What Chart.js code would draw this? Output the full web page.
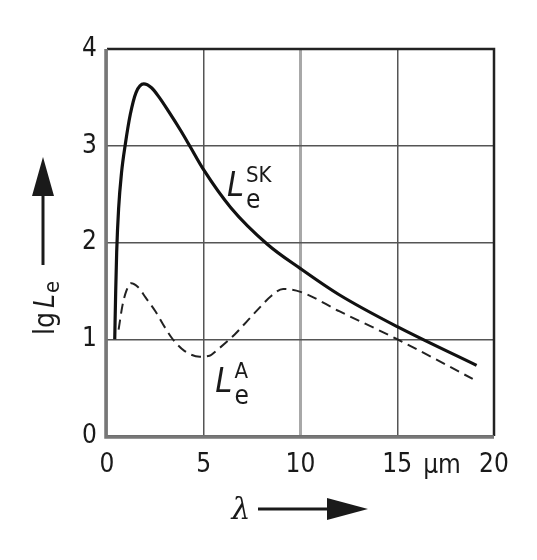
<!DOCTYPE html>
<html>
<head>
<meta charset="utf-8">
<script src="https://cdn.jsdelivr.net/npm/chart.js@4"></script>
<style>
  html, body { margin: 0; padding: 0; background: #fff; }
  #chart { display: block; }
</style>
</head>
<body>
<canvas id="chart" width="537" height="560"></canvas>
<script>
// wavelength in um, lg of radiance
const skLambda = [0.4, 0.45, 0.5, 0.6, 0.75, 0.95, 1.2, 1.5, 1.9, 2.3, 2.7, 3.2, 3.8, 4.3, 5.0, 6.4, 8.3, 10, 12, 15, 19.1];
const skValues = [1.0, 1.5, 1.9, 2.35, 2.72, 3.02, 3.32, 3.55, 3.64, 3.6, 3.5, 3.35, 3.16, 2.99, 2.75, 2.36, 1.98, 1.73, 1.46, 1.13, 0.73];

const aLambda = [0.6, 0.8, 1.0, 1.25, 1.6, 2.0, 2.5, 3.0, 3.4, 4.0, 4.8, 5.3, 5.7, 6.6, 7.3, 7.9, 8.5, 9.1, 10, 12, 15, 18.9];
const aValues = [1.1, 1.35, 1.5, 1.58, 1.54, 1.43, 1.29, 1.12, 1.0, 0.88, 0.82, 0.83, 0.89, 1.05, 1.2, 1.33, 1.45, 1.52, 1.49, 1.29, 1.0, 0.59];

const xTicks = [0, 5, 10, 15, 20];
const yTicks = [0, 1, 2, 3, 4];

const FONT = '"DejaVu Sans Condensed", "Liberation Sans Narrow", sans-serif';
const INK = '#1a1a1a';

function toPoints(xs, ys) {
  return xs.map((x, i) => ({ x: x, y: ys[i] }));
}

function arrowHead(ctx, tipX, tipY, dir, len, half) {
  ctx.beginPath();
  if (dir === 'up') {
    ctx.moveTo(tipX, tipY);
    ctx.lineTo(tipX - half, tipY + len);
    ctx.lineTo(tipX + half, tipY + len);
  } else {
    ctx.moveTo(tipX, tipY);
    ctx.lineTo(tipX - len, tipY - half);
    ctx.lineTo(tipX - len, tipY + half);
  }
  ctx.closePath();
  ctx.fill();
}

// Label with italic L, subscript and superscript
function drawLabel(ctx, x, y, sup) {
  ctx.font = 'italic 34px ' + FONT;
  ctx.textAlign = 'left';
  ctx.textBaseline = 'alphabetic';
  ctx.fillText('L', x, y);
  const w = ctx.measureText('L').width;
  ctx.font = '22px ' + FONT;
  ctx.fillText(sup, x + w + 2, y - 14);
  ctx.font = '26px ' + FONT;
  ctx.fillText('e', x + w + 2, y + 12);
}

const decorations = {
  id: 'decorations',
  afterDraw(chart) {
    const ctx = chart.ctx;
    const xs = chart.scales.x, ys = chart.scales.y;
    const area = chart.chartArea;
    ctx.save();
    ctx.fillStyle = INK;
    ctx.strokeStyle = INK;

    // frame: top and right dark, left and bottom grey
    ctx.lineWidth = 2.5;
    ctx.strokeStyle = '#222';
    ctx.beginPath();
    ctx.moveTo(area.left, area.top);
    ctx.lineTo(area.right, area.top);
    ctx.lineTo(area.right, area.bottom);
    ctx.stroke();
    ctx.strokeStyle = '#777';
    ctx.lineWidth = 3.5;
    ctx.beginPath();
    ctx.moveTo(area.left - 1, area.top);
    ctx.lineTo(area.left - 1, area.bottom + 1);
    ctx.lineTo(area.right, area.bottom + 1);
    ctx.stroke();

    // unit between 15 and 20
    ctx.fillStyle = INK;
    ctx.font = '26px ' + FONT;
    ctx.textAlign = 'center';
    ctx.textBaseline = 'middle';
    ctx.fillText('\u00b5m', 442, 466);

    // x axis title with arrow
    ctx.font = 'italic 30px "DejaVu Serif", serif';
    ctx.fillText('\u03bb', 241, 511);
    ctx.strokeStyle = INK;
    ctx.lineWidth = 3;
    ctx.beginPath();
    ctx.moveTo(258, 509);
    ctx.lineTo(330, 509);
    ctx.stroke();
    arrowHead(ctx, 368, 509, 'right', 41, 11);

    // y axis title with arrow
    ctx.beginPath();
    ctx.moveTo(43, 195);
    ctx.lineTo(43, 265);
    ctx.stroke();
    arrowHead(ctx, 43, 157, 'up', 39, 11);

    ctx.save();
    ctx.translate(47, 308);
    ctx.rotate(-Math.PI / 2);
    ctx.textAlign = 'right';
    ctx.textBaseline = 'middle';
    ctx.font = '28px ' + FONT;
    ctx.fillText('lg', -4, 0);
    ctx.textAlign = 'left';
    ctx.font = 'italic 28px ' + FONT;
    ctx.fillText('L', 0, 0);
    const lw = ctx.measureText('L').width;
    ctx.font = '22px ' + FONT;
    ctx.fillText('e', lw + 1, 6);
    ctx.restore();

    // curve labels placed in data units
    drawLabel(ctx, xs.getPixelForValue(6.2), ys.getPixelForValue(2.48), 'SK');
    drawLabel(ctx, xs.getPixelForValue(5.6), ys.getPixelForValue(0.45), 'A');

    ctx.restore();
  }
};

new Chart(document.getElementById('chart'), {
  type: 'line',
  data: {
    datasets: [
      {
        label: 'SK',
        data: toPoints(skLambda, skValues),
        borderColor: '#111',
        borderWidth: 3.2,
        pointRadius: 0,
        cubicInterpolationMode: 'monotone',
        fill: false
      },
      {
        label: 'A',
        data: toPoints(aLambda, aValues),
        borderColor: '#222',
        borderWidth: 2,
        borderDash: [10, 6],
        pointRadius: 0,
        cubicInterpolationMode: 'monotone',
        fill: false
      }
    ]
  },
  options: {
    responsive: false,
    animation: false,
    events: [],
    layout: { padding: { left: 0, top: 49, right: 43, bottom: 74 } },
    plugins: {
      legend: { display: false },
      tooltip: { enabled: false }
    },
    scales: {
      x: {
        type: 'linear',
        min: 0,
        max: 20,
        afterBuildTicks: axis => { axis.ticks = xTicks.map(v => ({ value: v })); },
        afterFit: axis => { axis.height = 50; },
        border: { display: false },
        grid: {
          drawTicks: false,
          color: ctx => ctx.tick && ctx.tick.value === 10 ? '#a8a8a8' : '#555',
          lineWidth: ctx => ctx.tick && ctx.tick.value === 10 ? 3 : 1.5
        },
        ticks: {
          color: INK,
          padding: 14,
          maxRotation: 0,
          font: { family: FONT, size: 26 }
        }
      },
      y: {
        type: 'linear',
        min: 0,
        max: 4,
        afterBuildTicks: axis => { axis.ticks = yTicks.map(v => ({ value: v })); },
        afterFit: axis => { axis.width = 107; },
        border: { display: false },
        grid: {
          drawTicks: false,
          color: '#555',
          lineWidth: 1.5
        },
        ticks: {
          color: INK,
          padding: 10,
          font: { family: FONT, size: 26 }
        }
      }
    }
  },
  plugins: [decorations]
});
</script>
</body>
</html>
